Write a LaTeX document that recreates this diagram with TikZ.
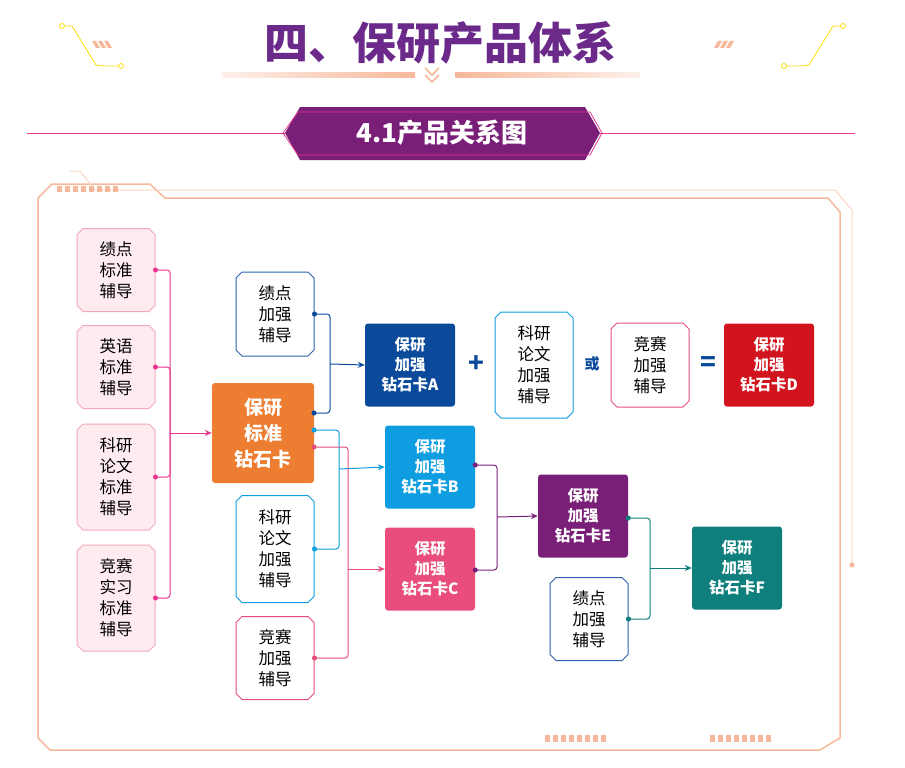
\documentclass[tikz,border=0pt]{standalone}
\usepackage{fontspec}
\setmainfont{Noto Sans CJK SC}
\usetikzlibrary{arrows.meta,positioning,shapes.misc,calc}
\definecolor{titlepurple}{HTML}{6B2A8A}
\definecolor{cardpurple}{HTML}{7A1F78}
\definecolor{hotpink}{HTML}{E8368F}
\definecolor{framepeach}{HTML}{F6B89A}
\definecolor{softpink}{HTML}{FDEBF0}
\definecolor{rimpink}{HTML}{F4A9BB}
\definecolor{stdorange}{HTML}{ED7D31}
\definecolor{cardA}{HTML}{0B4A9A}
\definecolor{cardB}{HTML}{0D9DE0}
\definecolor{cardC}{HTML}{E84D7B}
\definecolor{cardD}{HTML}{D2141F}
\definecolor{cardF}{HTML}{0E7F7D}
\definecolor{lineblue}{HTML}{2E63AE}
\begin{document}
\begin{tikzpicture}[x=1pt,y=-1pt,>={Stealth[length=7pt,width=6pt]},
		every node/.style={font=\fontsize{16.5}{21}\selectfont,align=center},
		base/.style={chamfered rectangle,chamfered rectangle xsep=3pt,chamfered rectangle ysep=3pt,chamfered rectangle angle=45,line width=1pt,inner sep=0pt,fill=white},
		basic/.style={base,draw=rimpink,fill=softpink,minimum width=78pt},
		plus/.style={base,minimum width=78pt},
		card/.style={rounded corners=3pt,minimum width=90pt,minimum height=83pt,text=white,font=\fontsize{15.5}{20}\selectfont\bfseries},
		sign/.style={text=cardA,font=\fontsize{26}{26}\selectfont\bfseries},
		link/.style={line width=1pt,rounded corners=3pt},
		dot/.style={circle,fill,inner sep=1.8pt}]
	\useasboundingbox (0,0) rectangle (905,768);
	
	% Heading
	\node[text=titlepurple,font=\fontsize{44}{44}\selectfont\bfseries] (title) at (440,43) {四、保研产品体系};
	\shade[left color=framepeach!20,right color=framepeach] (222,73) rectangle (415,78);
	\shade[left color=framepeach,right color=framepeach!20] (455,73) rectangle (640,78);
	\draw[framepeach,line width=1.5pt] (425,68) -- (432,75) -- (439,68) (425,75) -- (432,82) -- (439,75);
	\draw[yellow!80!orange,line width=0.8pt] (62,26) circle (2.5) (65,26) -- (72,26) -- (96,65) -- (103,66) -- (118,66) (121,66) circle (2.5);
	\draw[yellow!80!orange,line width=0.8pt] (843,26) circle (2.5) (840,26) -- (833,26) -- (809,65) -- (802,66) -- (787,66) (784,66) circle (2.5);
	\foreach \i in {0,1,2}{
		\fill[framepeach] ({92+\i*6},41) -- ({96+\i*6},41) -- ({100+\i*6},48) -- ({96+\i*6},48) -- cycle;
		\fill[framepeach] ({718+\i*6},41) -- ({722+\i*6},41) -- ({718+\i*6},48) -- ({714+\i*6},48) -- cycle;
	}
	
	% Banner
	\draw[hotpink,line width=1pt] (27,133) -- (287,133) (600,133) -- (855,133);
	\fill[cardpurple] (300,107) -- (585,107) -- (600,133) -- (585,160) -- (300,160) -- (285,133) -- cycle;
	\draw[hotpink,line width=0.8pt] (298,112) -- (590,112) -- (602,133) -- (590,155) -- (298,155) -- (283,133) -- cycle;
	\node[text=white,font=\fontsize{26}{26}\selectfont\bfseries] (banner) at (442,133) {4.1产品关系图};
	
	% Frame
	\draw[framepeach,line width=1.5pt] (52,184) -- (150,184) -- (165,198) -- (828,198) -- (840,212) -- (840,738) -- (820,750) -- (50,750) -- (38,738) -- (38,198) -- cycle;
	\draw[framepeach!60,line width=1pt] (70,171) -- (80,171) -- (95,190) -- (835,190) -- (852,210) -- (852,565);
	\fill[framepeach] (852,565) circle (2.5);
	\foreach \i in {0,...,7}{\fill[framepeach] ({57+\i*8},186) rectangle ({62+\i*8},192);}
	\foreach \i in {0,...,7}{\fill[framepeach] ({545+\i*8},735) rectangle ({550+\i*8},742);}
	\foreach \i in {0,...,7}{\fill[framepeach] ({710+\i*8},735) rectangle ({715+\i*8},742);}
	
	% Standard tutoring
	\node[basic,minimum height=83pt] (gpaS) at (116,270) {绩点\\标准\\辅导};
	\node[basic,minimum height=83pt] (engS) at (116,367) {英语\\标准\\辅导};
	\node[basic,minimum height=106pt] (papS) at (116,477) {科研\\论文\\标准\\辅导};
	\node[basic,minimum height=106pt] (comS) at (116,598) {竞赛\\实习\\标准\\辅导};
	
	% Cards
	\node[card,fill=stdorange,minimum width=102pt,minimum height=100pt,font=\fontsize{19}{26}\selectfont\bfseries] (std) at (263,433) {保研\\标准\\钻石卡};
	\node[card,fill=cardA] (cA) at (410,365) {保研\\加强\\钻石卡A};
	\node[card,fill=cardB] (cB) at (430,467) {保研\\加强\\钻石卡B};
	\node[card,fill=cardC] (cC) at (430,569) {保研\\加强\\钻石卡C};
	\node[card,fill=cardD] (cD) at (769,365) {保研\\加强\\钻石卡D};
	\node[card,fill=cardpurple] (cE) at (583,516) {保研\\加强\\钻石卡E};
	\node[card,fill=cardF] (cF) at (737,568) {保研\\加强\\钻石卡F};
	
	% Enhanced tutoring
	\node[plus,draw=lineblue,minimum height=84pt] (gpaP) at (275,314) {绩点\\加强\\辅导};
	\node[plus,draw=cardB,minimum height=107pt] (papP) at (275,549) {科研\\论文\\加强\\辅导};
	\node[plus,draw=cardC,minimum height=83pt] (comP) at (275,658) {竞赛\\加强\\辅导};
	\node[plus,draw=cardB,minimum height=106pt] (papD) at (534,365) {科研\\论文\\加强\\辅导};
	\node[plus,draw=cardC,minimum height=84pt] (comD) at (650,365) {竞赛\\加强\\辅导};
	\node[plus,draw=lineblue,minimum height=83pt] (gpaF) at (589,619) {绩点\\加强\\辅导};
	
	% Signs
	\node[sign] (plusD) at (476,364) {+};
	\node[sign,font=\fontsize{15}{15}\selectfont\bfseries] (orD) at (592,364) {或};
	\node[sign] (eqD) at (708,364) {=};
	
	% Joints
	\coordinate (busS) at (170,433);
	\coordinate (busA) at (330,364);
	\coordinate (busB) at (339,469);
	\coordinate (busC) at (348,569);
	\coordinate (busE) at (497,517);
	\coordinate (busF) at (650,568);
	\coordinate (stdA) at (314,413);
	\coordinate (stdB) at (314,430);
	\coordinate (stdC) at (314,447);
	
	% Links
	\foreach \n in {gpaS,engS,papS,comS}{
		\draw[link,hotpink] (\n.east) -| (busS);
		\node[dot,hotpink] at (\n.east) {};
	}
	\draw[->,link,hotpink] (busS) -- (std.west);
	
	\draw[link,cardA] (gpaP.east) -| (busA) |- (stdA);
	\draw[->,link,cardA] (busA) -- (cA.west);
	\node[dot,cardA] at (gpaP.east) {};
	\node[dot,cardA] at (stdA) {};
	
	\draw[link,cardB] (papP.east) -| (busB) |- (stdB);
	\draw[->,link,cardB] (busB) -- (cB.west);
	\node[dot,cardB] at (papP.east) {};
	\node[dot,cardB] at (stdB) {};
	
	\draw[link,cardC] (comP.east) -| (busC) |- (stdC);
	\draw[->,link,cardC] (busC) -- (cC.west);
	\node[dot,cardC] at (comP.east) {};
	\node[dot,cardC] at (stdC) {};
	
	\draw[link,cardpurple] ($(cB.east)+(0,-2)$) -| (busE) |- ($(cC.east)+(0,1)$);
	\draw[->,link,cardpurple] (busE) -- (cE.west);
	\node[dot,cardpurple] at ($(cB.east)+(0,-2)$) {};
	\node[dot,cardpurple] at ($(cC.east)+(0,1)$) {};
	
	\draw[link,cardF] ($(cE.east)+(0,2)$) -| (busF) |- (gpaF.east);
	\draw[->,link,cardF] (busF) -- (cF.west);
	\node[dot,cardF] at ($(cE.east)+(0,2)$) {};
	\node[dot,cardF] at (gpaF.east) {};
\end{tikzpicture}
\end{document}
